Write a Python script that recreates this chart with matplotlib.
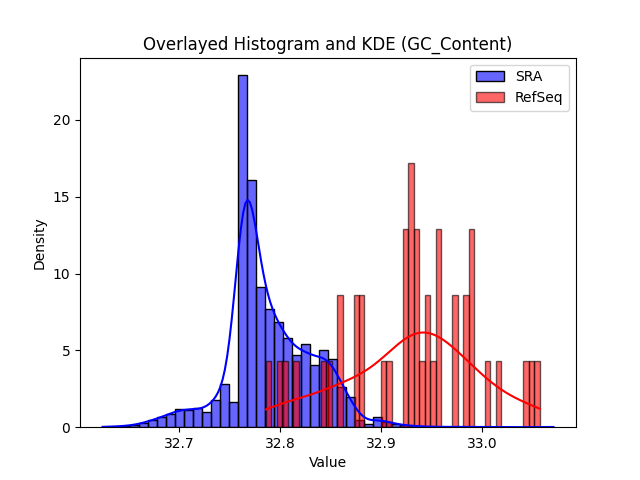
import numpy as np
import matplotlib.pyplot as plt

# SRA: 50 equal-width bins between these limits, density per bin
sra_lo, sra_hi = 32.6243, 33.0706
sra_density = [0.04, 0.04, 0.08, 0.12, 0.27, 0.45, 0.65, 0.86, 1.20, 1.15,
               1.25, 0.97, 1.80, 2.80, 1.62, 22.90, 16.05, 9.10, 7.67, 6.82,
               5.78, 4.68, 5.39, 4.03, 5.00, 4.42, 2.60, 1.95, 0.45, 0.20,
               0.66, 0.35, 0.20, 0.12, 0.08, 0.04, 0.04, 0.00, 0.04, 0.00,
               0.04, 0.00, 0.00, 0.04, 0.00, 0.00, 0.00, 0.00, 0.00, 0.04]
sra_n = 1800  # approximate number of sequences

# RefSeq: 50 equal-width bins, raw counts (43 sequences)
refseq_lo, refseq_hi = 32.786, 33.057
refseq_counts = [1, 0, 1, 1, 0, 1, 0, 0, 0, 0,
                 1, 1, 0, 2, 0, 0, 2, 2, 0, 0,
                 0, 1, 1, 0, 0, 3, 4, 3, 1, 2,
                 1, 3, 0, 0, 2, 0, 2, 3, 0, 0,
                 1, 0, 1, 0, 0, 0, 0, 1, 1, 1]


def gauss_kde(centers, weights, n, grid):
    w = np.asarray(weights, float)
    w = w / w.sum()
    mean = np.sum(w * centers)
    std = np.sqrt(np.sum(w * (centers - mean) ** 2))
    bw = std * n ** (-1 / 5)
    z = (grid[:, None] - centers[None, :]) / bw
    return (np.exp(-0.5 * z ** 2) * w).sum(axis=1) / (bw * np.sqrt(2 * np.pi))


fig, ax = plt.subplots(figsize=(6.4, 4.8), dpi=100)

# SRA
edges = np.linspace(sra_lo, sra_hi, len(sra_density) + 1)
centers = (edges[:-1] + edges[1:]) / 2
ax.hist(centers, bins=edges, weights=sra_density, density=True,
        facecolor=(0, 0, 1, 0.6), edgecolor='black', linewidth=1, label='SRA')
grid = np.linspace(sra_lo, sra_hi, 200)
ax.plot(grid, gauss_kde(centers, sra_density, sra_n, grid), color='blue', lw=1.5)

# RefSeq
r_edges = np.linspace(refseq_lo, refseq_hi, len(refseq_counts) + 1)
r_centers = (r_edges[:-1] + r_edges[1:]) / 2
ax.hist(r_centers, bins=r_edges, weights=refseq_counts, density=True,
        facecolor=(1, 0, 0, 0.6), edgecolor=(0, 0, 0, 0.6), linewidth=1, label='RefSeq')
r_grid = np.linspace(refseq_lo, refseq_hi, 200)
ax.plot(r_grid, gauss_kde(r_centers, refseq_counts, sum(refseq_counts), r_grid),
        color='red', lw=1.5)

ax.set_title('Overlayed Histogram and KDE (GC_Content)')
ax.set_xlabel('Value')
ax.set_ylabel('Density')
ax.legend(loc='upper right')

plt.savefig('out.png', dpi=100)
